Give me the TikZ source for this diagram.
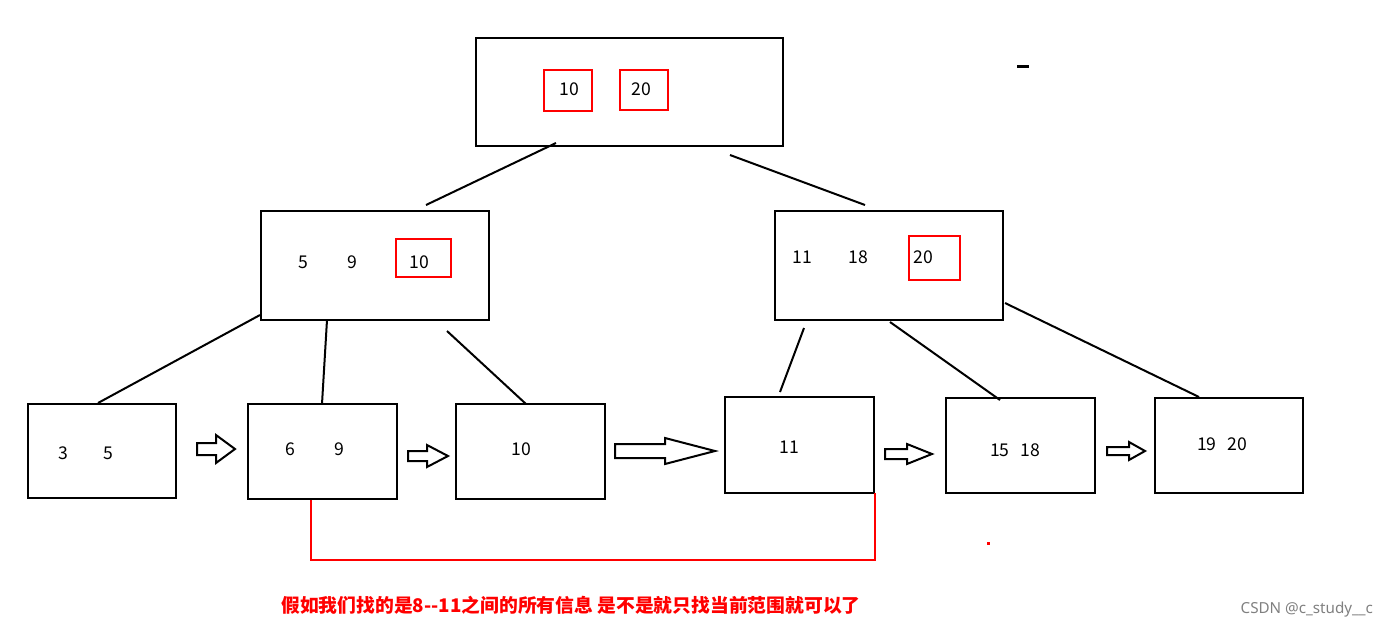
\documentclass[tikz,border=0pt]{standalone}
\usepackage{xcolor}
\usepackage{fontspec}
\setmainfont{Noto Sans}
\newfontfamily\cjk{Noto Sans CJK SC}
\usepackage{tikz}

\begin{document}
\begin{tikzpicture}[x=0.5pt,y=-0.5pt,font=\cjk\fontsize{8.8}{10}\selectfont,line width=1pt]
\newcommand{\blkpfeil}[6]{\draw (#1,#4-#5) -- (#2,#4-#5) -- (#2,#4-#6) -- (#3,#4) -- (#2,#4+#6) -- (#2,#4+#5) -- (#1,#4+#5) -- cycle;}
\useasboundingbox (0,0) rectangle (1388,628);
% Wurzel
\draw (476,38) rectangle (783,146);
\draw[red] (544,70) rectangle (592,111) (620,70) rectangle (668,110);
\node (w10) at (569,89) {10}; \node (w20) at (641,89) {20};
\draw[line width=1.5pt] (1017,66) -- (1029,66);
% mittlere Ebene
\draw (261,211) rectangle (489,320);
\node (m5) at (303,262) {5}; \node (m9) at (352,262) {9};
\draw[red] (396,239) rectangle (451,277); \node (m10) at (419,262) {10};
\draw (775,211) rectangle (1003,320);
\node (m11) at (802,257) {11}; \node (m18) at (858,257) {18};
\draw[red] (909,236) rectangle (960,280); \node (m20) at (923,257) {20};
% Verbindungen
\coordinate (a1) at (556,143); \coordinate (a2) at (426,205);
\coordinate (b1) at (730,155); \coordinate (b2) at (865,205);
\draw (a1) -- (a2) (b1) -- (b2);
\coordinate (c1) at (260,315); \coordinate (c2) at (98,403);
\coordinate (d1) at (327,320); \coordinate (d2) at (322,404);
\coordinate (e1) at (447,331); \coordinate (e2) at (526,404);
\draw (c1) -- (c2) (d1) -- (d2) (e1) -- (e2);
\coordinate (f1) at (804,328); \coordinate (f2) at (780,392);
\coordinate (g1) at (890,322); \coordinate (g2) at (1000,400);
\coordinate (h1) at (1005,303); \coordinate (h2) at (1199,397);
\draw (f1) -- (f2) (g1) -- (g2) (h1) -- (h2);
% Blaetter
\foreach \xa/\ya/\xb/\yb in {28/404/176/498, 248/404/397/499, 456/404/605/499, 725/397/874/493, 946/398/1095/493, 1155/398/1303/493}
  \draw (\xa,\ya) rectangle (\xb,\yb);
\node (l3) at (63,453) {3}; \node (l5) at (108,453) {5};
\node (l6) at (290,449) {6}; \node (l9) at (339,449) {9};
\node (l10) at (521,449) {10};
\node (l11) at (789,447) {11};
\node (l1518) at (1015,450) {15\hspace{0.6em}18};
\node (l1920) at (1222,444) {19\hspace{0.6em}20};
% Pfeile
\blkpfeil{197}{216}{235}{449}{6}{14}
\blkpfeil{408}{427}{448}{456}{5}{11}
\blkpfeil{615}{665}{715}{451}{7}{13}
\blkpfeil{885}{907}{932}{454}{5}{10}
\blkpfeil{1107}{1129}{1145}{451}{4}{9}
% Bereich
\draw[red] (311,500) -- (311,560) -- (875,560) -- (875,493);
\fill[red] (987,542) rectangle (990,545);
\node[red,font=\cjk\bfseries\fontsize{9.4}{11}\selectfont] (txt) at (571,605) {假如我们找的是8--11之间的所有信息 是不是就只找当前范围就可以了};
\node[gray,font=\fontsize{7.6}{9}\selectfont,anchor=east,inner sep=0pt] (csdn) at (1374,610) {CSDN @c\_study\_\_c};
\end{tikzpicture}
\end{document}
